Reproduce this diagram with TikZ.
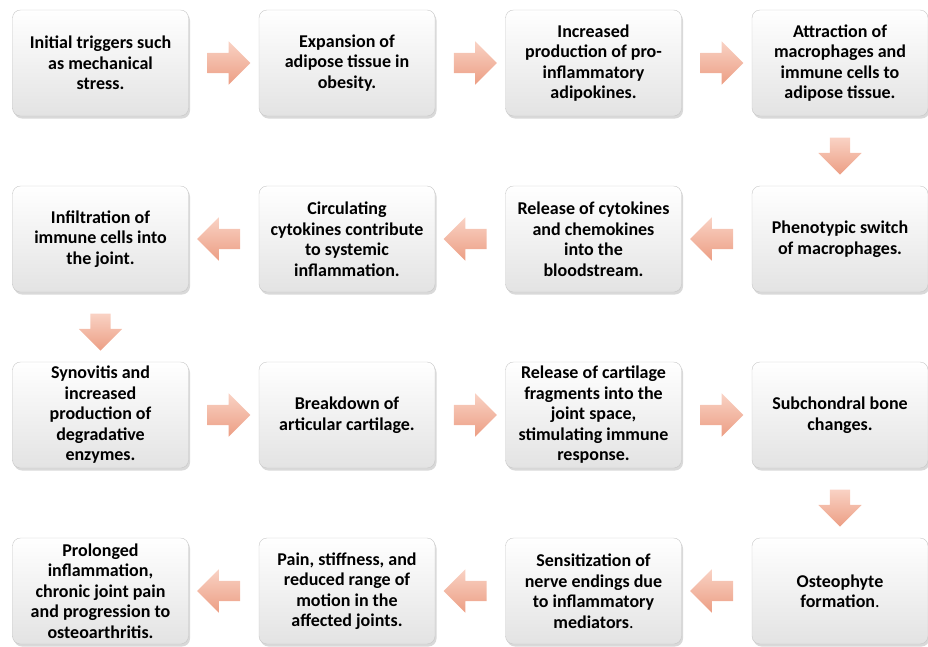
\documentclass[tikz,border=0pt]{standalone}
\usepackage{fontspec}
\setmainfont{Carlito}
\usetikzlibrary{shapes.arrows,shadows,calc}

\definecolor{flowtop}{RGB}{249,210,196}
\definecolor{flowbot}{RGB}{236,158,132}

\begin{document}
\begin{tikzpicture}[x=1pt, y=-1pt,
    box/.style={draw=black!22, rounded corners=8pt, minimum width=176pt, minimum height=106pt,
                text centered, align=center, top color=white, bottom color=black!11,
                font=\fontsize{18}{20.5}\selectfont\bfseries, inner sep=2pt,
                drop shadow={shadow xshift=1.5pt, shadow yshift=-2.5pt, opacity=0.3}},
    flow/.style={single arrow, draw=none, minimum width=43pt, minimum height=43pt,
                 single arrow head extend=11.5pt, inner sep=10pt,
                 top color=flowtop, bottom color=flowbot},
    flowdown/.style={flow, minimum height=37pt}]
    \useasboundingbox (0,0) rectangle (928,646);
    % row 1
    \node[box] (trig) at (100.5, 63)  {Initial triggers such\\as mechanical\\stress.};
    \node[box] (adip) at (347, 63)    {Expansion of\\adipose tissue in\\obesity.};
    \node[box] (prod) at (593.5, 63)  {Increased\\production of pro-\\inflammatory\\adipokines.};
    \node[box] (attr) at (840, 63)    {Attraction of\\macrophages and\\immune cells to\\adipose tissue.};
    % row 2
    \node[box] (phen) at (840, 239)   {Phenotypic switch\\of macrophages.};
    \node[box] (rel)  at (593.5, 239) {Release of cytokines\\and chemokines\\into the\\bloodstream.};
    \node[box] (circ) at (347, 239)   {Circulating\\cytokines contribute\\to systemic\\inflammation.};
    \node[box] (infl) at (100.5, 239) {Infiltration of\\immune cells into\\the joint.};
    % row 3
    \node[box] (syn)  at (100.5, 415) {Synovitis and\\increased\\production of\\degradative\\enzymes.};
    \node[box] (brk)  at (347, 415)   {Breakdown of\\articular cartilage.};
    \node[box] (frag) at (593.5, 415) {Release of cartilage\\fragments into the\\joint space,\\stimulating immune\\response.};
    \node[box] (sub)  at (840, 415)   {Subchondral bone\\changes.};
    % row 4
    \node[box] (ost)  at (840, 591)   {Osteophyte\\formation{\mdseries.}};
    \node[box] (sens) at (593.5, 591) {Sensitization of\\nerve endings due\\to inflammatory\\mediators{\mdseries.}};
    \node[box] (pain) at (347, 591)   {Pain, stiffness, and\\reduced range of\\motion in the\\affected joints.};
    \node[box] (prol) at (100.5, 591) {Prolonged\\inflammation,\\chronic joint pain\\and progression to\\osteoarthritis.};

    \foreach \a/\b/\r in {trig/adip/0, adip/prod/0, prod/attr/0,
                          phen/rel/180, rel/circ/180, circ/infl/180,
                          syn/brk/0, brk/frag/0, frag/sub/0,
                          ost/sens/180, sens/pain/180, pain/prol/180}
        \node[flow, shape border rotate=\r] at ($(\a)!0.5!(\b)$) {};
    \foreach \a/\b in {attr/phen, infl/syn, sub/ost}
        \node[flowdown, shape border rotate=270] at ($(\a)!0.5!(\b)$) {};
\end{tikzpicture}
\end{document}
